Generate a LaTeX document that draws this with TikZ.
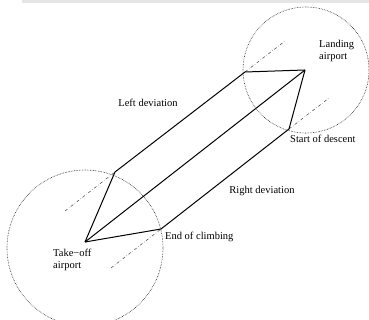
\documentclass[tikz,border=0pt]{standalone}
\usepackage{fontspec}
\setmainfont{Liberation Serif}
\usetikzlibrary{positioning, calc}

\begin{document}
\begin{tikzpicture}[
      x=1pt, y=-1pt,
      every node/.style={font=\fontsize{10.5}{11.5}\selectfont, inner sep=1pt},
      zone/.style={draw=black!90, densely dotted, line width=0.6pt},
      route/.style={draw, line width=1pt, line join=miter},
      axis/.style={draw=black!75, dash dot, line width=0.5pt},
      lbl/.style={align=left, anchor=west}
    ]
    \useasboundingbox (0,0) rectangle (369,320);
    \fill[black!10] (22,0) rectangle (369,3.5);

    % airports and turning points
    \coordinate (takeoff) at (85,242);
    \coordinate (landing) at (305,70);
    \coordinate (lcorner) at (115,172);
    \coordinate (climb) at (161,229);
    \coordinate (rcorner) at (245,72);
    \coordinate (descent) at (289,129);

    % terminal zones
    \draw[zone] (85,248) circle[radius=78];
    \draw[zone] (306,70) circle[radius=63];

    % runway axes
    \coordinate (a1) at ($(lcorner)+(-50,39)$);
    \coordinate (a2) at ($(climb)+(-50,39)$);
    \coordinate (a3) at ($(rcorner)+(40,-31)$);
    \coordinate (a4) at ($(descent)+(40,-31)$);
    \draw[axis] (a1) -- (lcorner);
    \draw[axis] (a2) -- (climb);
    \draw[axis] (rcorner) -- (a3);
    \draw[axis] (descent) -- (a4);

    % routes
    \draw[route] (takeoff) -- (landing);
    \draw[route] (takeoff) -- (lcorner) -- (rcorner) -- (landing);
    \draw[route] (takeoff) -- (climb) -- (descent) -- (landing);

    % labels
    \node[lbl] (landlbl) at (318,51) {Landing\\airport};
    \node[anchor=west] (desclbl) at (289,139) {Start of descent};
    \node (leftlbl) at (148,103) {Left deviation};
    \node (rightlbl) at (262,191) {Right deviation};
    \node[anchor=west] (climblbl) at (164,237) {End of climbing};
    \node[lbl] (takelbl) at (52,260) {Take−off\\airport};
  \end{tikzpicture}
\end{document}
